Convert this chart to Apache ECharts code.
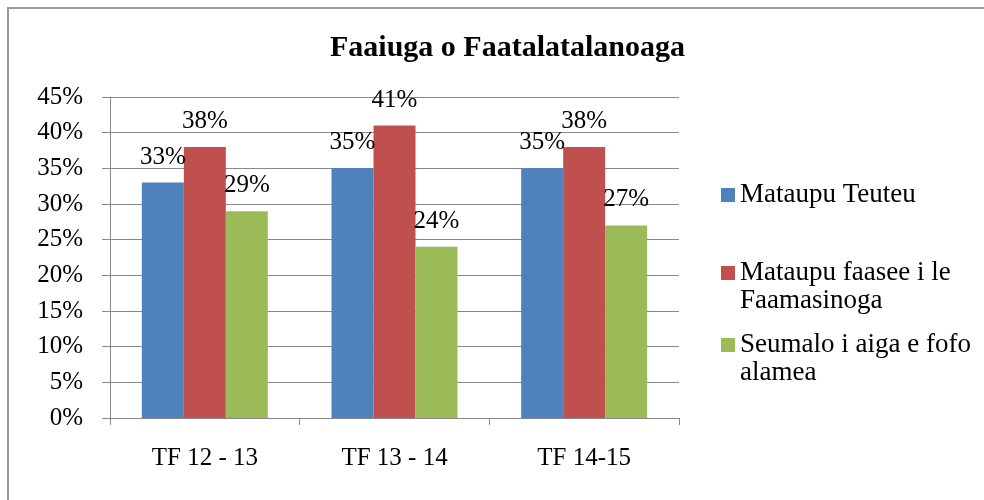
<!DOCTYPE html>
<html>
<head>
<meta charset="utf-8">
<script src="https://cdn.jsdelivr.net/npm/echarts@6/dist/echarts.min.js"></script>
<style>
  html, body { margin: 0; padding: 0; background: #fff; }
  #chart { width: 984px; height: 500px; }
</style>
</head>
<body>
<div id="chart"></div>
<script>
var categories = ['TF 12 - 13', 'TF 13 - 14', 'TF 14-15'];
var seriesNames = ['Mataupu Teuteu', 'Mataupu faasee i le\nFaamasinoga', 'Seumalo i aiga e fofo\nalamea'];
var teuteu = [33, 35, 35];
var faasee = [38, 41, 38];
var seumalo = [29, 24, 27];
var colors = ['#4F81BD', '#C0504D', '#9BBB59'];

var serif = "'Liberation Serif', 'Times New Roman', serif";

var myChart = echarts.init(document.getElementById('chart'));

function makeSeries(name, values, color) {
  return {
    name: name,
    type: 'bar',
    data: values,
    barWidth: 42,
    barGap: '0%',
    itemStyle: { color: color },
    label: {
      show: true,
      position: 'top',
      distance: 13,
      formatter: '{c}%',
      color: '#000',
      fontFamily: serif,
      fontSize: 25
    }
  };
}

// multi-line names get a blank first line so the icon sits beside the first text line
function makeLegend(name, top) {
  return {
    data: [name],
    orient: 'vertical',
    left: 721,
    top: top,
    padding: 0,
    itemWidth: 14,
    itemHeight: 14,
    icon: 'rect',
    formatter: function (n) {
      return n.indexOf('\n') >= 0 ? '\n' + n : n;
    },
    textStyle: {
      color: '#000',
      fontFamily: serif,
      fontSize: 27,
      lineHeight: 28
    }
  };
}

var option = {
  animation: false,
  title: {
    text: 'Faaiuga o Faatalatalanoaga',
    left: 325,
    top: 28,
    textStyle: {
      fontFamily: serif,
      fontWeight: 'bold',
      fontSize: 30,
      color: '#000'
    }
  },
  legend: [
    makeLegend(seriesNames[0], 181),
    makeLegend(seriesNames[1], 231),
    makeLegend(seriesNames[2], 303)
  ],
  grid: { left: 110, right: 305, top: 97, bottom: 82 },
  xAxis: {
    type: 'category',
    data: categories,
    axisLine: { lineStyle: { color: '#888', width: 1 } },
    axisTick: { show: true, length: 7, lineStyle: { color: '#888' } },
    axisLabel: { margin: 28, color: '#000', fontFamily: serif, fontSize: 25 }
  },
  yAxis: {
    type: 'value',
    min: 0,
    max: 45,
    interval: 5,
    axisLine: { show: true, lineStyle: { color: '#888', width: 1 } },
    axisTick: { show: true, length: 8, lineStyle: { color: '#888' } },
    splitLine: { lineStyle: { color: '#888', width: 1 } },
    axisLabel: { margin: 27, formatter: '{value}%', color: '#000', fontFamily: serif, fontSize: 25 }
  },
  graphic: [
    {
      type: 'rect',
      shape: { x: 8, y: 8, width: 1000, height: 520 },
      style: { fill: 'none', stroke: '#999', lineWidth: 2 },
      silent: true
    }
  ],
  series: [
    makeSeries(seriesNames[0], teuteu, colors[0]),
    makeSeries(seriesNames[1], faasee, colors[1]),
    makeSeries(seriesNames[2], seumalo, colors[2])
  ]
};

myChart.setOption(option);
</script>
</body>
</html>
